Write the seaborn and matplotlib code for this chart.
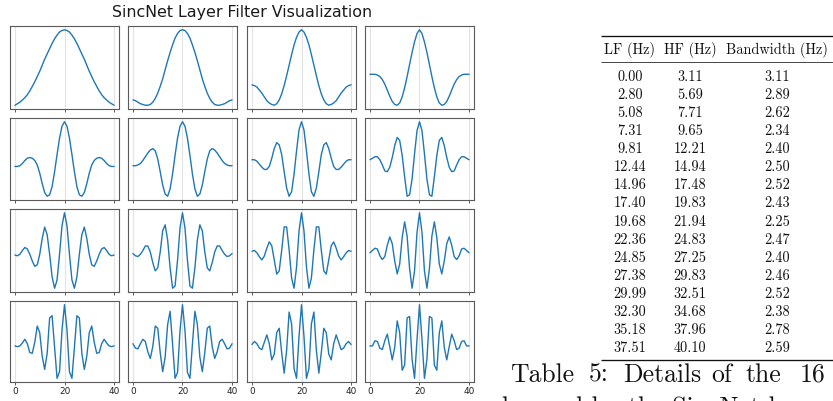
import matplotlib
matplotlib.use("Agg")
import matplotlib.pyplot as plt
import pandas as pd
import seaborn as sns

# ---------------- data ----------------
taps = list(range(41))
xticks = [0, 20, 40]
title = "SincNet Layer Filter Visualization"

f01 = [0.00, 0.02, 0.04, 0.07, 0.10, 0.14, 0.19, 0.25, 0.31, 0.38, 0.45, 0.53, 0.61, 0.68, 0.75, 0.82, 0.88, 0.93, 0.97, 0.99, 1.00,
       0.99, 0.97, 0.93, 0.88, 0.82, 0.75, 0.68, 0.61, 0.53, 0.45, 0.38, 0.31, 0.25, 0.19, 0.14, 0.10, 0.07, 0.04, 0.02, 0.00]
f02 = [0.07, 0.06, 0.04, 0.02, 0.01, 0.00, 0.00, 0.01, 0.04, 0.09, 0.16, 0.25, 0.35, 0.47, 0.59, 0.70, 0.80, 0.89, 0.95, 0.99, 1.00,
       0.99, 0.95, 0.89, 0.80, 0.70, 0.59, 0.47, 0.35, 0.25, 0.16, 0.09, 0.04, 0.01, 0.00, 0.00, 0.01, 0.02, 0.04, 0.06, 0.07]
f03 = [0.27, 0.26, 0.24, 0.20, 0.16, 0.11, 0.06, 0.03, 0.01, 0.00, 0.02, 0.07, 0.15, 0.26, 0.39, 0.53, 0.67, 0.80, 0.90, 0.97, 1.00,
       0.97, 0.90, 0.80, 0.67, 0.53, 0.39, 0.26, 0.15, 0.07, 0.02, 0.00, 0.01, 0.03, 0.06, 0.11, 0.16, 0.20, 0.24, 0.26, 0.27]
f04 = [0.41, 0.41, 0.41, 0.40, 0.38, 0.34, 0.28, 0.20, 0.12, 0.05, 0.01, 0.00, 0.03, 0.11, 0.23, 0.38, 0.54, 0.70, 0.84, 0.95, 1.00,
       0.95, 0.84, 0.70, 0.54, 0.38, 0.23, 0.11, 0.03, 0.00, 0.01, 0.05, 0.12, 0.20, 0.28, 0.34, 0.38, 0.40, 0.41, 0.41, 0.41]
f05 = [0.40, 0.40, 0.41, 0.44, 0.48, 0.51, 0.52, 0.51, 0.48, 0.42, 0.31, 0.17, 0.05, 0.00, 0.02, 0.13, 0.33, 0.56, 0.78, 0.94, 1.00,
       0.94, 0.78, 0.56, 0.33, 0.13, 0.02, 0.00, 0.05, 0.17, 0.31, 0.42, 0.48, 0.51, 0.52, 0.51, 0.48, 0.44, 0.41, 0.40, 0.40]
f06 = [0.41, 0.41, 0.42, 0.44, 0.48, 0.53, 0.58, 0.62, 0.64, 0.61, 0.50, 0.33, 0.15, 0.03, 0.00, 0.10, 0.30, 0.55, 0.78, 0.94, 1.00,
       0.94, 0.78, 0.55, 0.30, 0.10, 0.00, 0.03, 0.15, 0.33, 0.50, 0.61, 0.64, 0.62, 0.58, 0.53, 0.48, 0.44, 0.42, 0.41, 0.41]
f07 = [0.49, 0.49, 0.47, 0.43, 0.39, 0.36, 0.36, 0.40, 0.51, 0.64, 0.72, 0.69, 0.56, 0.33, 0.11, 0.00, 0.06, 0.30, 0.61, 0.89, 1.00,
       0.89, 0.61, 0.30, 0.06, 0.00, 0.11, 0.33, 0.56, 0.69, 0.72, 0.64, 0.51, 0.40, 0.36, 0.36, 0.39, 0.43, 0.47, 0.49, 0.49]
f08 = [0.49, 0.51, 0.53, 0.53, 0.49, 0.42, 0.34, 0.33, 0.39, 0.52, 0.68, 0.79, 0.75, 0.55, 0.26, 0.00, 0.02, 0.23, 0.57, 0.88, 1.00,
       0.88, 0.57, 0.23, 0.02, 0.00, 0.26, 0.55, 0.75, 0.79, 0.68, 0.52, 0.39, 0.33, 0.34, 0.42, 0.49, 0.53, 0.53, 0.51, 0.49]
f09 = [0.44, 0.43, 0.45, 0.50, 0.54, 0.52, 0.45, 0.36, 0.29, 0.31, 0.45, 0.66, 0.81, 0.71, 0.45, 0.15, 0.00, 0.11, 0.45, 0.83, 1.00,
       0.83, 0.45, 0.11, 0.00, 0.15, 0.45, 0.71, 0.81, 0.66, 0.45, 0.31, 0.29, 0.36, 0.45, 0.52, 0.54, 0.50, 0.45, 0.43, 0.44]
f10 = [0.46, 0.43, 0.42, 0.45, 0.50, 0.56, 0.56, 0.48, 0.34, 0.23, 0.27, 0.48, 0.76, 0.84, 0.64, 0.27, 0.00, 0.03, 0.37, 0.80, 1.00,
       0.80, 0.37, 0.03, 0.00, 0.27, 0.64, 0.84, 0.76, 0.48, 0.27, 0.23, 0.34, 0.48, 0.56, 0.56, 0.50, 0.45, 0.42, 0.43, 0.46]
f11 = [0.51, 0.52, 0.49, 0.44, 0.40, 0.45, 0.55, 0.63, 0.58, 0.40, 0.22, 0.26, 0.52, 0.82, 0.82, 0.53, 0.17, 0.04, 0.31, 0.77, 1.00,
       0.77, 0.31, 0.04, 0.17, 0.53, 0.82, 0.82, 0.52, 0.26, 0.22, 0.40, 0.58, 0.63, 0.55, 0.45, 0.40, 0.44, 0.49, 0.52, 0.51]
f12 = [0.47, 0.50, 0.53, 0.52, 0.43, 0.38, 0.42, 0.57, 0.68, 0.59, 0.36, 0.19, 0.32, 0.67, 0.88, 0.69, 0.26, 0.00, 0.23, 0.74, 1.00,
       0.74, 0.23, 0.00, 0.26, 0.69, 0.88, 0.67, 0.32, 0.19, 0.36, 0.59, 0.68, 0.57, 0.42, 0.38, 0.43, 0.52, 0.53, 0.50, 0.47]
f13 = [0.44, 0.43, 0.44, 0.48, 0.53, 0.47, 0.35, 0.34, 0.49, 0.71, 0.62, 0.30, 0.12, 0.34, 0.82, 0.85, 0.42, 0.00, 0.09, 0.66, 1.00,
       0.66, 0.09, 0.00, 0.42, 0.85, 0.82, 0.34, 0.12, 0.30, 0.62, 0.71, 0.49, 0.34, 0.35, 0.47, 0.53, 0.48, 0.44, 0.43, 0.44]
f14 = [0.47, 0.41, 0.40, 0.47, 0.53, 0.50, 0.36, 0.27, 0.43, 0.71, 0.68, 0.35, 0.09, 0.29, 0.73, 0.91, 0.46, 0.00, 0.08, 0.65, 1.00,
       0.65, 0.08, 0.00, 0.46, 0.91, 0.73, 0.29, 0.09, 0.35, 0.68, 0.71, 0.43, 0.27, 0.36, 0.50, 0.53, 0.47, 0.40, 0.41, 0.47]
f15 = [0.46, 0.50, 0.47, 0.41, 0.39, 0.49, 0.59, 0.47, 0.25, 0.33, 0.62, 0.68, 0.35, 0.07, 0.38, 0.90, 0.74, 0.13, 0.00, 0.57, 1.00,
       0.57, 0.00, 0.13, 0.74, 0.90, 0.38, 0.07, 0.35, 0.68, 0.62, 0.33, 0.25, 0.47, 0.59, 0.49, 0.39, 0.41, 0.47, 0.50, 0.46]
f16 = [0.44, 0.44, 0.51, 0.50, 0.41, 0.39, 0.51, 0.60, 0.43, 0.25, 0.42, 0.78, 0.62, 0.11, 0.18, 0.82, 0.84, 0.26, 0.00, 0.53, 1.00,
       0.53, 0.00, 0.26, 0.84, 0.82, 0.18, 0.11, 0.62, 0.78, 0.42, 0.25, 0.43, 0.60, 0.51, 0.39, 0.41, 0.50, 0.51, 0.44, 0.44]
filters = [f01, f02, f03, f04, f05, f06, f07, f08, f09, f10, f11, f12, f13, f14, f15, f16]

# table (right side)
table_headers = ["LF (Hz)", "HF (Hz)", "Bandwidth (Hz)"]
lf_hz = [0.00, 2.80, 5.08, 7.31, 9.81, 12.44, 14.96, 17.40, 19.68, 22.36, 24.85, 27.38, 29.99, 32.30, 35.18, 37.51]
hf_hz = [3.11, 5.69, 7.71, 9.65, 12.21, 14.94, 17.48, 19.83, 21.94, 24.83, 27.25, 29.83, 32.51, 34.68, 37.96, 40.10]
bw_hz = [3.11, 2.89, 2.62, 2.34, 2.40, 2.50, 2.52, 2.43, 2.25, 2.47, 2.40, 2.46, 2.52, 2.38, 2.78, 2.59]
caption_words = ["Table", "5:", "Details", "of", "the", "16", "filters"]
caption_line2 = "learned by the SincNet layer."

# ---------------- figure ----------------
sns.set_theme(style="white")
plt.rcParams["font.family"] = ["DejaVu Sans"]

W, H = 833, 401
fig = plt.figure(figsize=(W / 100, H / 100), dpi=100)
fig.patch.set_facecolor("white")


def px_axes(left, top, width, height, **kw):
    return fig.add_axes([left / W, 1 - (top + height) / H, width / W, height / H], **kw)


col_left = [10, 128, 247, 365]
row_top = [26, 118, 209, 301]
row_h = [83, 82, 83, 81]
panel_w = 109

for i, vals in enumerate(filters):
    r, c = divmod(i, 4)
    ax = px_axes(col_left[c], row_top[r], panel_w, row_h[r])
    df = pd.DataFrame({"tap": taps, "amp": vals})
    sns.lineplot(data=df, x="tap", y="amp", ax=ax, color="#1f77b4", linewidth=1.0)
    ax.set_xlim(-2, 42)
    ax.set_xticks(xticks)
    ax.set_yticks([])
    ax.set_xlabel("")
    ax.set_ylabel("")
    ax.set_axisbelow(True)
    ax.grid(axis="x", color="#e3e3e3", linewidth=0.8)
    ax.grid(axis="y", visible=False)
    for s in ax.spines.values():
        s.set_color("#5a5a5a")
        s.set_linewidth(0.8)
    ax.tick_params(axis="x", bottom=True, length=2, width=0.7, color="#5a5a5a",
                   labelsize=6.4, pad=1.5, labelcolor="#222222",
                   labelbottom=(r == 3))

# overlay in pixel coordinates
ov = px_axes(0, 0, W, H, zorder=5)
ov.set_xlim(0, W)
ov.set_ylim(H, 0)
ov.axis("off")
ov.patch.set_visible(False)

ov.text(242, 17.3, title, ha="center", va="baseline", fontsize=11.4,
        color="#1a1a1a", family="DejaVu Sans")

# table rules
ov.plot([601, 840], [36, 36], color="#111111", lw=0.95, clip_on=False, solid_capstyle="butt")
ov.plot([601, 840], [62.3, 62.3], color="#111111", lw=0.55, clip_on=False, solid_capstyle="butt")
ov.plot([601, 840], [360, 360], color="#111111", lw=0.95, clip_on=False, solid_capstyle="butt")

col_x = [630, 690, 777]
tfont = dict(family="cmr10", fontsize=10.3, color="#111111")
for x, h in zip(col_x, table_headers):
    ov.text(x, 54, h, ha="center", va="baseline", **tfont)
for k, (a, b, d) in enumerate(zip(lf_hz, hf_hz, bw_hz)):
    yb = 81 + 18.07 * k
    for x, v in zip(col_x, (a, b, d)):
        ov.text(x, yb, f"{v:.2f}", ha="center", va="baseline", **tfont)

cap_x = [510, 589, 623, 711, 746, 800, 852]
for x, wtxt in zip(cap_x, caption_words):
    ov.text(x, 381.5, wtxt, ha="left", va="baseline", family="cmr10",
            fontsize=18.5, color="#111111", clip_on=False)
ov.text(502, 414.5, caption_line2, ha="left", va="baseline", family="cmr10",
        fontsize=18.5, color="#111111", clip_on=False)

fig.savefig("out.png", dpi=100, facecolor="white")
